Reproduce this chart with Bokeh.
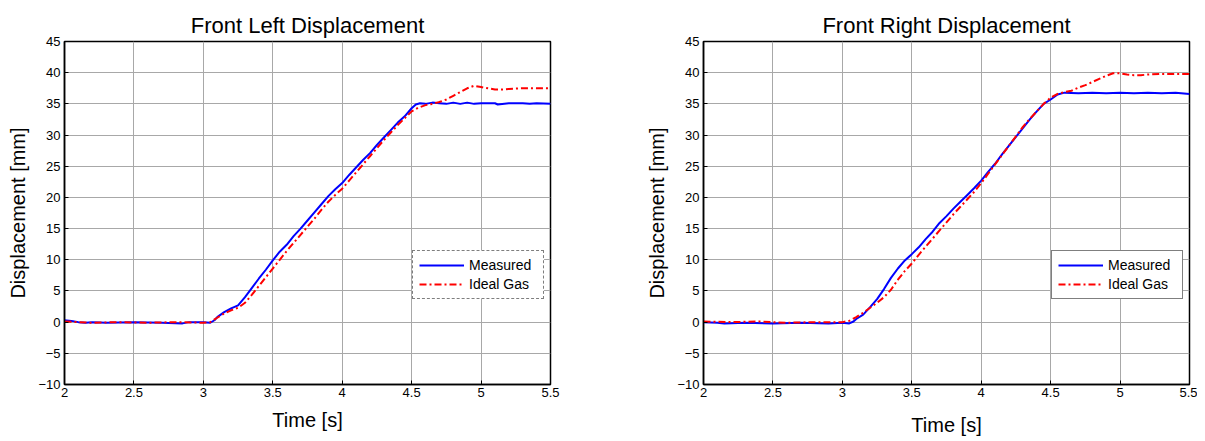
from bokeh.plotting import figure
from bokeh.layouts import row
from bokeh.models import Range1d, FixedTicker, Legend, LegendItem
from bokeh.embed import file_html
from bokeh.resources import INLINE

# ---- data ----
fl_meas_t = [2.00, 2.05, 2.10, 2.15, 2.20, 2.30, 2.50, 2.70, 2.85, 2.90, 3.00, 3.05, 3.08, 3.10, 3.15, 3.20,
             3.25, 3.30, 3.35, 3.40, 3.45, 3.50, 3.55, 3.60, 3.65, 3.70, 3.75, 3.80, 3.85, 3.90, 3.95, 4.00,
             4.05, 4.10, 4.15, 4.20, 4.25, 4.30, 4.35, 4.40, 4.45, 4.50, 4.53, 4.56, 4.60, 4.65, 4.70, 4.75,
             4.80, 4.85, 4.90, 4.95, 5.00, 5.10, 5.12, 5.20, 5.30, 5.35, 5.40, 5.50]
fl_meas_v = [0.3, 0.2, 0.0, -0.1, 0.0, -0.1, 0.0, -0.1, -0.2, 0.0, 0.0, -0.1, 0.3, 0.8, 1.6, 2.2,
             2.7, 4.0, 5.5, 7.0, 8.4, 9.9, 11.3, 12.4, 13.8, 15.0, 16.3, 17.6, 18.9, 20.2, 21.3, 22.3,
             23.6, 24.8, 26.0, 27.1, 28.4, 29.6, 30.8, 32.0, 33.0, 34.3, 34.9, 35.1, 35.0, 35.2, 35.1, 35.0,
             35.2, 35.0, 35.2, 35.0, 35.1, 35.1, 34.9, 35.1, 35.1, 35.0, 35.1, 35.0]

fl_ideal_t = [2.00, 2.10, 2.20, 2.40, 2.60, 2.80, 3.00, 3.05, 3.10, 3.15, 3.20, 3.25, 3.30, 3.35, 3.40, 3.45,
              3.50, 3.55, 3.60, 3.65, 3.70, 3.75, 3.80, 3.85, 3.90, 3.95, 4.00, 4.05, 4.10, 4.15, 4.20, 4.25,
              4.30, 4.35, 4.40, 4.45, 4.50, 4.55, 4.60, 4.65, 4.70, 4.75, 4.80, 4.85, 4.90, 4.95, 5.00, 5.05,
              5.10, 5.15, 5.20, 5.30, 5.40, 5.50]
fl_ideal_v = [0.1, 0.0, -0.1, 0.0, -0.1, 0.0, -0.1, 0.0, 0.7, 1.4, 1.9, 2.3, 3.1, 4.4, 5.8, 7.2,
              8.6, 10.0, 11.4, 12.7, 14.0, 15.3, 16.6, 18.0, 19.3, 20.4, 21.4, 22.7, 24.0, 25.3, 26.6, 27.9,
              29.2, 30.4, 31.6, 32.7, 33.8, 34.4, 34.8, 35.0, 35.3, 35.7, 36.3, 36.9, 37.5, 37.9, 37.7, 37.5,
              37.3, 37.3, 37.4, 37.5, 37.5, 37.5]

fr_meas_t = [2.00, 2.10, 2.15, 2.30, 2.50, 2.70, 2.90, 3.00, 3.05, 3.08, 3.10, 3.15, 3.20, 3.25, 3.30, 3.35,
             3.40, 3.45, 3.50, 3.55, 3.60, 3.65, 3.70, 3.75, 3.80, 3.85, 3.90, 3.95, 4.00, 4.05, 4.10, 4.15,
             4.20, 4.25, 4.30, 4.35, 4.40, 4.45, 4.50, 4.55, 4.60, 4.70, 4.80, 4.90, 5.00, 5.10, 5.20, 5.30,
             5.40, 5.50]
fr_meas_v = [0.0, -0.1, -0.2, -0.1, -0.2, -0.1, -0.2, -0.1, -0.2, 0.1, 0.5, 1.2, 2.4, 3.7, 5.3, 7.1,
             8.6, 9.9, 10.9, 12.0, 13.3, 14.5, 15.9, 17.0, 18.2, 19.3, 20.4, 21.5, 22.7, 24.1, 25.4, 26.9,
             28.3, 29.7, 31.1, 32.5, 33.8, 35.0, 35.7, 36.5, 36.8, 36.7, 36.8, 36.7, 36.8, 36.7, 36.8, 36.7,
             36.8, 36.6]

fr_ideal_t = [2.00, 2.20, 2.40, 2.60, 2.80, 3.00, 3.05, 3.10, 3.15, 3.20, 3.25, 3.30, 3.35, 3.40, 3.45, 3.50,
              3.55, 3.60, 3.65, 3.70, 3.75, 3.80, 3.85, 3.90, 3.95, 4.00, 4.05, 4.10, 4.15, 4.20, 4.25, 4.30,
              4.35, 4.40, 4.45, 4.50, 4.55, 4.60, 4.65, 4.70, 4.75, 4.80, 4.85, 4.90, 4.95, 5.00, 5.05, 5.10,
              5.15, 5.20, 5.30, 5.40, 5.50]
fr_ideal_v = [0.1, 0.0, 0.1, -0.1, 0.0, 0.0, 0.2, 0.8, 1.5, 2.3, 3.1, 4.0, 5.2, 6.8, 8.2, 9.4,
              10.8, 12.1, 13.4, 14.7, 16.0, 17.3, 18.5, 19.7, 20.9, 22.3, 23.8, 25.3, 26.8, 28.3, 29.8, 31.3,
              32.6, 33.8, 35.0, 36.0, 36.6, 36.9, 37.1, 37.6, 38.0, 38.5, 39.0, 39.5, 39.9, 39.9, 39.7, 39.6,
              39.6, 39.7, 39.8, 39.8, 39.8]

x_ticks = [2, 2.5, 3, 3.5, 4, 4.5, 5, 5.5]
y_ticks = [-10, -5, 0, 5, 10, 15, 20, 25, 30, 35, 40, 45]
titles = ["Front Left Displacement", "Front Right Displacement"]
series_names = ["Measured", "Ideal Gas"]
x_label = "Time [s]"
y_label = "Displacement [mm]"

FONT = "Liberation Sans"


def make_plot(title, mt, mv, it, iv, left, right, legend_dash, xlab_standoff):
    p = figure(output_backend="svg", toolbar_location=None,
               frame_width=486, frame_height=343,
               min_border_left=left, min_border_right=right,
               min_border_top=41, min_border_bottom=55,
               x_range=Range1d(2, 5.5), y_range=Range1d(-10, 45),
               title=title)
    p.title.text_font = FONT
    p.title.text_font_size = "22px"
    p.title.text_font_style = "normal"
    p.title.text_color = "black"
    p.title.align = "center"
    p.title.standoff = 8
    p.outline_line_color = "black"
    p.outline_line_width = 1.5
    p.background_fill_color = "white"
    p.border_fill_color = "white"

    for ax in (p.xaxis[0], p.yaxis[0]):
        ax.major_label_text_font = FONT
        ax.major_label_text_font_size = "13px"
        ax.major_label_text_color = "black"
        ax.axis_label_text_font = FONT
        ax.axis_label_text_font_size = "20px"
        ax.axis_label_text_font_style = "normal"
        ax.axis_label_text_color = "black"
        ax.major_tick_in = 4
        ax.major_tick_out = 0
        ax.minor_tick_line_color = None
        ax.axis_line_color = "black"
        ax.axis_line_width = 1.5
        ax.major_tick_line_color = "black"
    p.xaxis.ticker = FixedTicker(ticks=x_ticks)
    p.yaxis.ticker = FixedTicker(ticks=y_ticks)
    p.xaxis.axis_label = x_label
    p.yaxis.axis_label = y_label
    p.xaxis.major_label_standoff = 3
    p.yaxis.major_label_standoff = 4
    p.xaxis.axis_label_standoff = xlab_standoff
    p.yaxis.axis_label_standoff = 6

    p.grid.grid_line_color = "#a8a8a8"
    p.grid.grid_line_width = 1

    r1 = p.line(mt, mv, line_color="#0000ff", line_width=2)
    r2 = p.line(it, iv, line_color="#ff0000", line_width=2, line_dash="7 3 2 3")

    leg = Legend(items=[LegendItem(label=series_names[0], renderers=[r1]),
                        LegendItem(label=series_names[1], renderers=[r2])],
                 location=(348, 85))
    leg.label_text_font = FONT
    leg.label_text_font_size = "14px"
    leg.label_text_color = "black"
    leg.glyph_width = 45
    leg.glyph_height = 16
    leg.label_standoff = 5
    leg.label_width = 68
    leg.spacing = 3
    leg.padding = 6
    leg.margin = 0
    leg.border_line_color = "black"
    leg.border_line_width = 1.5
    if legend_dash:
        leg.border_line_dash = "6 2 2 2"
    leg.background_fill_alpha = 1.0
    p.add_layout(leg, "center")
    return p


p1 = make_plot(titles[0], fl_meas_t, fl_meas_v, fl_ideal_t, fl_ideal_v, 64, 93, True, 9)
p2 = make_plot(titles[1], fr_meas_t, fr_meas_v, fr_ideal_t, fr_ideal_v, 60, 8, False, 14)

layout = row(p1, p2)
open("out.html", "w").write(file_html(layout, INLINE))
